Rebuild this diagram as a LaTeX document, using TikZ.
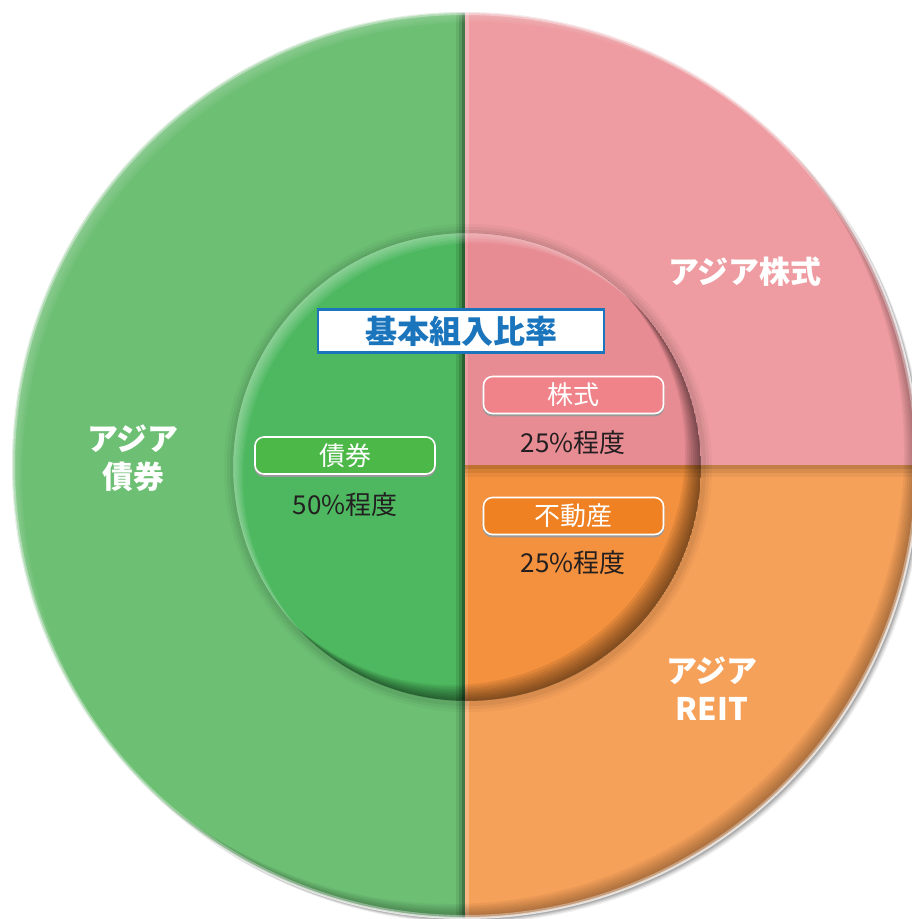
\documentclass[tikz,border=0pt]{standalone}
\usepackage{fontspec}
\setmainfont{Noto Sans CJK JP}
\definecolor{ogreen}{HTML}{6DBF74}
\definecolor{opink}{HTML}{EE9CA1}
\definecolor{oorange}{HTML}{F6A15A}
\definecolor{igreen}{HTML}{4DB85F}
\definecolor{ipink}{HTML}{E88C93}
\definecolor{iorange}{HTML}{F3913E}
\definecolor{pgreen}{HTML}{4CB848}
\definecolor{ppink}{HTML}{F08289}
\definecolor{porange}{HTML}{F08122}
\definecolor{tblue}{HTML}{1A75BC}
\definecolor{tdark}{HTML}{231F20}
\tikzset{
  biglabel/.style={text=white, font=\bfseries\fontsize{31}{38}\selectfont, align=center, inner sep=0pt},
  titlebox/.style={draw=tblue, line width=2.5pt, fill=white, minimum width=286pt, minimum height=43pt, inner sep=0pt, text=tblue, font=\bfseries\fontsize{32}{32}\selectfont},
  pill/.style={draw=white, line width=1.6pt, rounded corners=9pt, minimum width=180pt, minimum height=37pt, inner sep=0pt, text=white, font=\fontsize{26}{26}\selectfont},
  pillshadow/.style={draw=black!40, fill=black!40, line width=1.6pt, rounded corners=9pt, minimum width=180pt, minimum height=37pt, inner sep=0pt},
  pct/.style={text=tdark, font=\fontsize{26}{26}\selectfont, inner sep=0pt},
}
\begin{document}
\begin{tikzpicture}[x=1pt,y=-1pt]
\useasboundingbox (0,0) rectangle (912,919);
\fill[white] (0,0) rectangle (912,919);
% ---------- outer disc ----------
\foreach \s/\o in {5/0.06,4/0.08,3/0.1,2/0.12}{
  \fill[black, opacity=\o] (465+\s,465+\s) circle[radius=453pt];
}
\begin{scope}
  \clip (465,465) circle[radius=453pt];
  \fill[ogreen] (0,0) rectangle (465,919);
  \fill[opink] (465,0) rectangle (912,465);
  \fill[oorange] (465,465) rectangle (912,919);
  % divider shading
  \foreach \w/\o in {9/0.08,6/0.12,3/0.22}{
    \fill[black, opacity=\o] (465-\w,0) rectangle (465,919);
  }
  \fill[white, opacity=0.25] (465,0) rectangle (469,919);
  \foreach \w/\o in {12/0.05,8/0.07,4/0.1}{
    \fill[black, opacity=\o] (465,465) rectangle (912,465+\w);
  }
  % inner shadow bottom-right
  \foreach \d in {2,4,6,8,10,12,14}{
    \fill[black, opacity=0.05, even odd rule] (465,465) circle[radius=453pt] (465-\d,465-\d) circle[radius=453pt];
  }
  % highlight top-left
  \foreach \d in {2,4,6,8,10}{
    \fill[white, opacity=0.05, even odd rule] (465,465) circle[radius=453pt] (465+\d,465+\d) circle[radius=453pt];
  }
\end{scope}
\draw[white, opacity=0.35, line width=4pt] (465,465) circle[radius=452pt];
\draw[white, opacity=0.6, line width=2pt] (465,465) circle[radius=453pt];
% ---------- inner disc ----------
\foreach \r/\o in {244/0.03,241/0.04,238/0.05}{
  \fill[black, opacity=\o] (468,468) circle[radius=\r pt];
}
\begin{scope}
  \clip (467,467) circle[radius=234pt];
  \fill[igreen] (0,0) rectangle (465,919);
  \fill[ipink] (465,0) rectangle (912,465);
  \fill[iorange] (465,465) rectangle (912,919);
  \foreach \w/\o in {9/0.1,6/0.15,3/0.3}{
    \fill[black, opacity=\o] (465-\w,0) rectangle (465,919);
  }
  \fill[white, opacity=0.15] (465,0) rectangle (468,919);
  \foreach \w/\o in {12/0.05,8/0.07,4/0.1}{
    \fill[black, opacity=\o] (465,465) rectangle (912,465+\w);
  }
  \foreach \d in {2,4,6,8,10,12,14,16}{
    \fill[black, opacity=0.07, even odd rule] (467,467) circle[radius=234pt] (467-\d,467-\d) circle[radius=234pt];
  }
  \foreach \d in {2,4,6,8,10}{
    \fill[white, opacity=0.08, even odd rule] (467,467) circle[radius=234pt] (467+\d,467+\d) circle[radius=234pt];
  }
\end{scope}
% ---------- labels ----------
\node[biglabel] (stockout) at (745,272) {アジア株式};
\node[biglabel] (bondout) at (133,458) {アジア\\債券};
\node[biglabel] (reitout) at (712,689) {アジア\\REIT};
\node[titlebox] (title) at (461,331) {基本組入比率};
% pills with shadow
\node[pillshadow] (pstocksh) at (573.5,397) {};
\node[pill, fill=ppink] (pstock) at (573.5,395) {株式};
\node[pillshadow] (pbondsh) at (345,457.5) {};
\node[pill, fill=pgreen] (pbond) at (345,455.5) {債券};
\node[pillshadow] (preitsh) at (573.5,518) {};
\node[pill, fill=porange] (preit) at (573.5,516) {不動産};
\node[pct] (pctstock) at (573,443) {25\%程度};
\node[pct] (pctbond) at (345,505) {50\%程度};
\node[pct] (pctreit) at (573,563) {25\%程度};
\end{tikzpicture}
\end{document}
